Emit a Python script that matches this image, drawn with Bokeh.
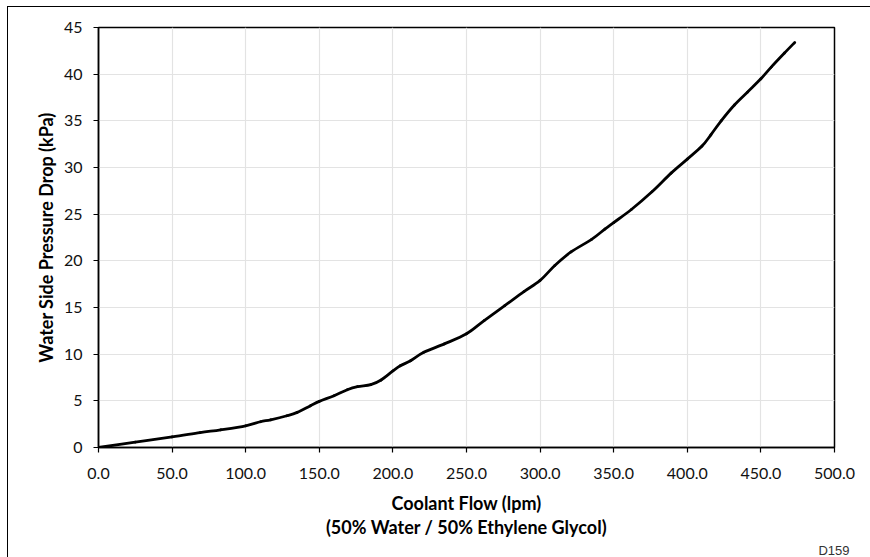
from bokeh.plotting import figure
from bokeh.models import NumeralTickFormatter, FixedTicker, Range1d, Title, ColumnDataSource
from bokeh.embed import file_html
from bokeh.resources import INLINE

flow = [0, 25, 50, 69, 83, 100, 110, 117, 128, 135, 144, 150, 160, 169, 176, 185, 192,
        200, 205, 212, 221, 235, 250, 262, 276, 289, 300, 310, 321, 335, 344, 350,
        362, 376, 389, 400, 410, 416, 423, 432, 441, 450, 457, 466, 473]
drop = [0, 0.58, 1.13, 1.6, 1.9, 2.33, 2.76, 2.97, 3.40, 3.76, 4.48, 4.94, 5.55, 6.19, 6.52, 6.73, 7.23,
        8.2, 8.75, 9.3, 10.2, 11.1, 12.18, 13.6, 15.2, 16.7, 17.9, 19.5, 20.95, 22.3, 23.4, 24.1,
        25.5, 27.4, 29.4, 30.9, 32.3, 33.5, 35.0, 36.7, 38.1, 39.5, 40.75, 42.26, 43.4]
x_ticks = [0, 50, 100, 150, 200, 250, 300, 350, 400, 450, 500]
y_ticks = [0, 5, 10, 15, 20, 25, 30, 35, 40, 45]

OX, OY = 7, 6
W, H = 870 - OX, 557 - OY

p = figure(width=W, height=H, output_backend="svg", toolbar_location=None,
           x_range=Range1d(0, 500), y_range=Range1d(0, 45),
           min_border_left=98 - OX - 1, min_border_right=37, min_border_top=27 - OY - 1,
           min_border_bottom=111)
p.margin = (OY, 0, 0, OX)
p.styles = {"border-left": "1px solid black", "border-top": "1px solid black"}

# smoothed line through the read points (Catmull-Rom style, like a spreadsheet smoothed line)
n = len(flow)
k = 1.0 / 6.0
x0, y0, x1, y1, cx0, cy0, cx1, cy1 = [], [], [], [], [], [], [], []
for i in range(n - 1):
    xp, yp = (flow[i - 1], drop[i - 1]) if i > 0 else (flow[i], drop[i])
    xn, yn = (flow[i + 2], drop[i + 2]) if i + 2 < n else (flow[i + 1], drop[i + 1])
    x0.append(flow[i]); y0.append(drop[i])
    x1.append(flow[i + 1]); y1.append(drop[i + 1])
    cx0.append(flow[i] + (flow[i + 1] - xp) * k)
    cy0.append(drop[i] + (drop[i + 1] - yp) * k)
    cx1.append(flow[i + 1] - (xn - flow[i]) * k)
    cy1.append(drop[i + 1] - (yn - drop[i]) * k)
src = ColumnDataSource(dict(x0=x0, y0=y0, x1=x1, y1=y1, cx0=cx0, cy0=cy0, cx1=cx1, cy1=cy1))
p.bezier(x0="x0", y0="y0", x1="x1", y1="y1", cx0="cx0", cy0="cy0", cx1="cx1", cy1="cy1",
         source=src, line_color="black", line_width=2.8, line_cap="round")

p.xaxis.ticker = FixedTicker(ticks=x_ticks)
p.yaxis.ticker = FixedTicker(ticks=y_ticks)
p.xaxis.formatter = NumeralTickFormatter(format="0.0")
p.xaxis.minor_tick_line_color = None
p.yaxis.minor_tick_line_color = None
for ax in (p.xaxis, p.yaxis):
    ax.major_tick_in = 0
    ax.major_tick_out = 5
    ax.axis_line_color = "black"
    ax.axis_line_width = 1.5
    ax.major_tick_line_color = "black"
    ax.major_tick_line_width = 1.2
    ax.major_label_text_font = "Lato"
    ax.major_label_text_font_size = "16px"
    ax.major_label_text_color = "#111111"
    ax.axis_label_text_font = "Lato"
    ax.axis_label_text_font_style = "bold"
    ax.axis_label_text_font_size = "18px"
    ax.axis_label_text_color = "black"

p.xaxis.axis_label_text_line_height = 1.11
p.xaxis.axis_label = "Coolant Flow (lpm)\n(50% Water / 50% Ethylene Glycol)"
p.yaxis.axis_label = "Water Side Pressure Drop (kPa)"
p.xaxis.major_label_standoff = 15
p.yaxis.major_label_standoff = 11
p.xaxis.axis_label_standoff = 10
p.yaxis.axis_label_standoff = 4

p.xgrid.grid_line_color = "#e3e3e3"
p.ygrid.grid_line_color = "#e3e3e3"
p.xgrid.grid_line_width = 1.2
p.ygrid.grid_line_width = 1.2

p.outline_line_color = "black"
p.outline_line_width = 1.5
p.outline_line_alpha = 1.0

p.add_layout(Title(text="D159", align="right", offset=-15, standoff=0,
                   text_font="Liberation Sans", text_font_size="13px",
                   text_font_style="normal", text_color="#333333"), "below")

open("out.html", "w").write(file_html(p, INLINE))
